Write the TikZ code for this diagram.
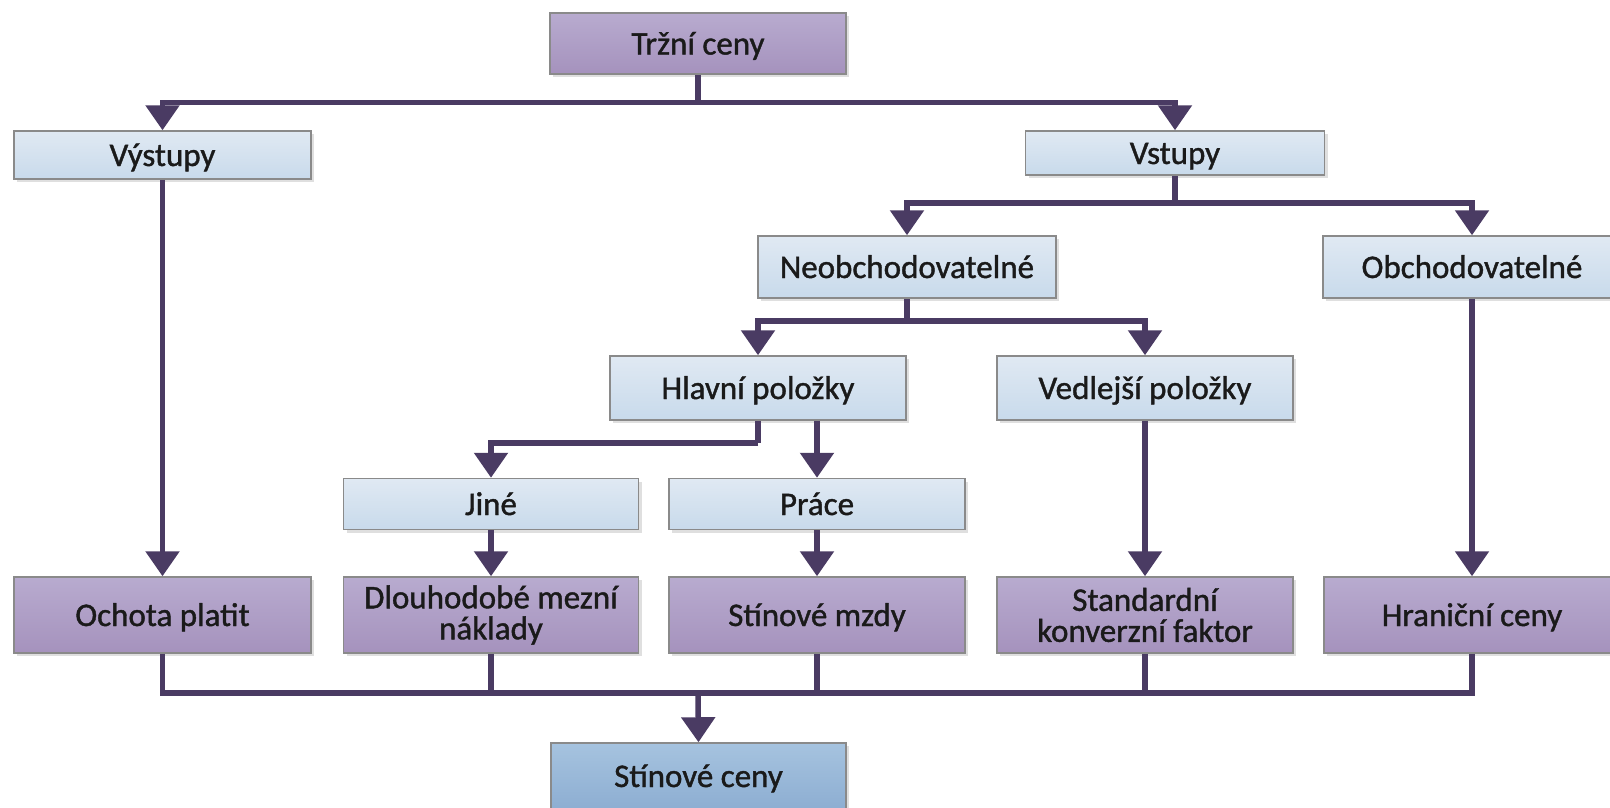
\documentclass[tikz,border=0pt]{standalone}
\usepackage{fontspec}
\setmainfont{Carlito}[FakeBold=1.2]
\usetikzlibrary{arrows.meta,shadows,calc}
\definecolor{lineC}{HTML}{4A3B63}
\definecolor{purT}{HTML}{B8ABCF}
\definecolor{purB}{HTML}{A592BD}
\definecolor{bluT}{HTML}{E0E9F3}
\definecolor{bluB}{HTML}{C8DAEB}
\definecolor{dbT}{HTML}{A6C3DF}
\definecolor{dbB}{HTML}{8DAED2}
\definecolor{edgeC}{HTML}{8A8A8A}
\definecolor{txtC}{HTML}{1A1A1A}
\tikzset{
  box/.style={rectangle, draw=edgeC, line width=1.5pt, align=center, text=txtC,
    font=\fontsize{33}{31}\selectfont, inner sep=0pt,
    drop shadow={opacity=0.25, shadow xshift=3pt, shadow yshift=-3pt}},
  one/.style={text height=26pt, text depth=4pt},
  purbox/.style={box, top color=purT, bottom color=purB},
  blubox/.style={box, top color=bluT, bottom color=bluB},
  dblbox/.style={box, top color=dbT, bottom color=dbB},
  conn/.style={draw=lineC, line width=5.5pt},
  arr/.style={conn, -{Triangle[width=33pt,length=25pt]}}
}
\begin{document}
\begin{tikzpicture}[x=1pt,y=-1pt]
\useasboundingbox (0,0) rectangle (1610,807);
\clip (0,0) rectangle (1610,807);
% nodes
\node[purbox, one, minimum width=296pt, minimum height=61pt] (trzni) at (698,43.5) {Tržní ceny};
\node[blubox, one, minimum width=297pt, minimum height=48pt] (vystupy) at (162.5,155) {Výstupy};
\node[blubox, one, minimum width=299pt, minimum height=44pt] (vstupy) at (1175,153) {Vstupy};
\node[blubox, one, minimum width=298pt, minimum height=62pt] (neob) at (907,267) {Neobchodovatelné};
\node[blubox, one, minimum width=298pt, minimum height=62pt] (obch) at (1472,267) {Obchodovatelné};
\node[blubox, one, minimum width=296pt, minimum height=64pt] (hlavni) at (758,388) {Hlavní položky};
\node[blubox, one, minimum width=296pt, minimum height=64pt] (vedl) at (1145,388) {Vedlejší položky};
\node[blubox, one, minimum width=295pt, minimum height=51pt] (jine) at (491,504) {Jiné};
\node[blubox, one, minimum width=296pt, minimum height=51pt] (prace) at (817,504) {Práce};
\node[purbox, one, minimum width=297pt, minimum height=76pt] (ochota) at (162.5,615) {Ochota platit};
\node[purbox, minimum width=295pt, minimum height=76pt] (dlouh) at (491,615) {\raisebox{-2pt}{Dlouhodobé mezní}\\\raisebox{-2pt}{náklady}};
\node[purbox, one, minimum width=296pt, minimum height=76pt] (mzdy) at (817,615) {Stínové mzdy};
\node[purbox, minimum width=296pt, minimum height=76pt] (std) at (1145,615) {\raisebox{-2pt}{Standardní}\\\raisebox{-2pt}{konverzní faktor}};
\node[purbox, one, minimum width=296pt, minimum height=76pt] (hran) at (1472,615) {Hraniční ceny};
\node[dblbox, one, minimum width=295pt, minimum height=66pt] (stin) at (698.5,776) {Stínové ceny};
% junction coordinates
\coordinate (j1) at (698,102.5);
\coordinate (j2) at (1175,203);
\coordinate (j3) at (907,321);
\coordinate (j4) at (758,443);
\coordinate (j5) at (698,693);
% connectors
\draw[conn] (trzni.south) -- (j1);
\draw[arr] (j1) -| (vystupy.north);
\draw[arr] (j1) -| (vstupy.north);
\draw[arr] (vystupy.south) -- (ochota.north);
\draw[conn] (vstupy.south) -- (j2);
\draw[arr] (j2) -| (neob.north);
\draw[arr] (j2) -| (obch.north);
\draw[arr] (obch.south) -- (hran.north);
\draw[conn] (neob.south) -- (j3);
\draw[arr] (j3) -| (hlavni.north);
\draw[arr] (j3) -| (vedl.north);
\draw[conn] (hlavni.south) -- (j4);
\draw[arr] (j4) -| (jine.north);
\draw[arr] (prace.north |- hlavni.south) -- (prace.north);
\draw[arr] (vedl.south) -- (std.north);
\draw[arr] (jine.south) -- (dlouh.north);
\draw[arr] (prace.south) -- (mzdy.north);
\draw[conn] (ochota.south) |- (j5);
\draw[conn] (hran.south) |- (j5);
\draw[conn] (dlouh.south) -- (dlouh.south |- j5);
\draw[conn] (mzdy.south) -- (mzdy.south |- j5);
\draw[conn] (std.south) -- (std.south |- j5);
\draw[arr] (j5) -- (stin.north);
\end{tikzpicture}
\end{document}
